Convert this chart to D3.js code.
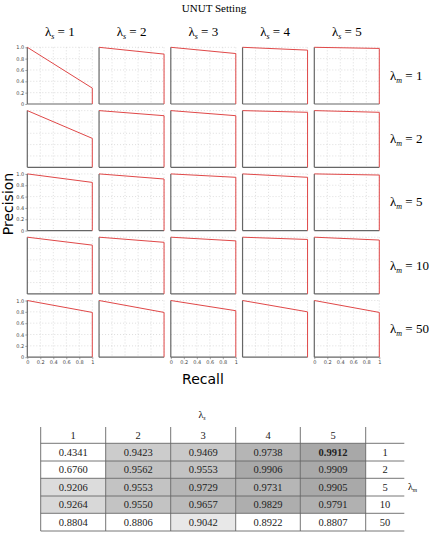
<!DOCTYPE html>
<html>
<head>
<meta charset="utf-8">
<script src="https://cdn.jsdelivr.net/npm/d3@7"></script>
<style>
  body { margin: 0; background: #fff; }
  svg { display: block; }
</style>
</head>
<body>
<svg id="chart" width="429" height="535"></svg>
<script>
// lambda_s columns and lambda_m rows
const lambdaS = [1, 2, 3, 4, 5];
const lambdaM = [1, 2, 5, 10, 50];

// precision at recall = 1 for each curve (rows = lambda_m, cols = lambda_s)
const precisionEnd = [
    [0.28, 0.88, 0.89, 0.95, 0.98],
    [0.51, 0.91, 0.91, 0.97, 0.97],
    [0.85, 0.91, 0.94, 0.94, 0.98],
    [0.86, 0.91, 0.935, 0.96, 0.95],
    [0.79, 0.79, 0.82, 0.80, 0.79]
];
const recallPts = [0, 1, 1];

// table values
const apValues = [
    [0.4341, 0.9423, 0.9469, 0.9738, 0.9912],
    [0.6760, 0.9562, 0.9553, 0.9906, 0.9909],
    [0.9206, 0.9553, 0.9729, 0.9731, 0.9905],
    [0.9264, 0.9550, 0.9657, 0.9829, 0.9791],
    [0.8804, 0.8806, 0.9042, 0.8922, 0.8807]
];

const tickVals = [0, 0.2, 0.4, 0.6, 0.8, 1];
const yTickLabels = ['0', '0.2', '0.4', '0.6', '0.8', '1.0'];
const xTickLabels = ['0', '0.2', '0.4', '0.6', '0.8', '1'];

const svg = d3.select('#chart');
const serif = '"Liberation Serif", "DejaVu Serif", serif';
const sans = '"DejaVu Sans", sans-serif';

// grid geometry
const colX0 = 27.3, colStep = 71.75, plotW = 65;
const rowY0 = 47.3, rowStep = 63.3, plotH = 56.7;

const x = d3.scaleLinear().domain([0, 1]).range([0, plotW]);
const y = d3.scaleLinear().domain([0, 1]).range([plotH, 0]);

// title
svg.append('text')
    .attr('x', 214).attr('y', 12)
    .attr('text-anchor', 'middle')
    .style('font-family', serif).style('font-size', '11px')
    .text('UNUT Setting');

// column titles
lambdaS.forEach((s, j) => {
    const t = svg.append('text')
        .attr('x', colX0 + j * colStep + plotW / 2).attr('y', 36)
        .attr('text-anchor', 'middle')
        .style('font-family', serif).style('font-size', '13px');
    t.append('tspan').text('λ');
    t.append('tspan').attr('dy', 3).style('font-size', '8px').style('font-style', 'italic').text('s');
    t.append('tspan').attr('dy', -3).text(' = ' + s);
});

// row labels
lambdaM.forEach((m, i) => {
    const t = svg.append('text')
        .attr('x', 390).attr('y', rowY0 + i * rowStep + plotH / 2 + 4)
        .style('font-family', serif).style('font-size', '13px');
    t.append('tspan').text('λ');
    t.append('tspan').attr('dy', 3).style('font-size', '8px').style('font-style', 'italic').text('m');
    t.append('tspan').attr('dy', -3).text(' = ' + m);
});

const line = d3.line().x(d => x(d[0])).y(d => y(d[1]));

lambdaM.forEach((m, i) => {
    lambdaS.forEach((s, j) => {
        const g = svg.append('g')
            .attr('transform', `translate(${colX0 + j * colStep},${rowY0 + i * rowStep})`);

        // dotted grid
        tickVals.slice(1).forEach(v => {
            g.append('line')
                .attr('x1', 0).attr('x2', plotW).attr('y1', y(v)).attr('y2', y(v))
                .attr('stroke', '#c8c8c8').attr('stroke-width', 0.6)
                .attr('stroke-dasharray', '1,2');
            g.append('line')
                .attr('x1', x(v)).attr('x2', x(v)).attr('y1', 0).attr('y2', plotH)
                .attr('stroke', '#c8c8c8').attr('stroke-width', 0.6)
                .attr('stroke-dasharray', '1,2');
        });

        // spines
        g.append('line').attr('x1', 0).attr('x2', 0).attr('y1', 0).attr('y2', plotH)
            .attr('stroke', '#666').attr('stroke-width', 1.2);
        g.append('line').attr('x1', 0).attr('x2', plotW).attr('y1', plotH).attr('y2', plotH)
            .attr('stroke', '#666').attr('stroke-width', 1.2);

        // PR curve
        const prec = [1, precisionEnd[i][j], 0];
        const pts = recallPts.map((r, k) => [r, prec[k]]);
        g.append('path')
            .attr('d', line(pts))
            .attr('fill', 'none')
            .attr('stroke', '#e04848')
            .attr('stroke-width', 1);

        // y tick labels on first column, rows 1, 3, 5
        if (j === 0 && i % 2 === 0) {
            const yAxis = d3.axisLeft(y).tickValues(tickVals)
                .tickFormat((d, k) => yTickLabels[k]).tickSize(2).tickPadding(1);
            const ga = g.append('g').call(yAxis);
            ga.select('.domain').remove();
            ga.selectAll('line').attr('stroke', '#666').attr('stroke-width', 0.6);
            ga.selectAll('text').style('font-family', sans).style('font-size', '5px').attr('fill', '#444');
        }
        // x tick labels on last row, columns 1, 3, 5
        if (i === lambdaM.length - 1 && j % 2 === 0) {
            const xAxis = d3.axisBottom(x).tickValues(tickVals)
                .tickFormat((d, k) => xTickLabels[k]).tickSize(2).tickPadding(1);
            const ga = g.append('g').attr('transform', `translate(0,${plotH})`).call(xAxis);
            ga.select('.domain').remove();
            ga.selectAll('line').attr('stroke', '#666').attr('stroke-width', 0.6);
            ga.selectAll('text').style('font-family', sans).style('font-size', '5px').attr('fill', '#444');
        }
    });
});

// axis titles
svg.append('text')
    .attr('transform', 'translate(13,204) rotate(-90)')
    .attr('text-anchor', 'middle')
    .style('font-family', sans).style('font-size', '14px')
    .text('Precision');
svg.append('text')
    .attr('x', 203).attr('y', 384)
    .attr('text-anchor', 'middle')
    .style('font-family', sans).style('font-size', '14px')
    .text('Recall');

// ---- table ----
const colEdges = [40.7, 105.7, 170.7, 235.7, 300.3, 365.7, 404.3];
const rowEdges = [427, 443.3, 461, 478.3, 496, 513.3, 531];
const shade = d3.scaleLinear().domain([0.9, 1.0]).range([235, 162]).clamp(true);
const cellFill = v => {
    if (v < 0.9) return '#fff';
    const c = Math.round(shade(v));
    return d3.rgb(c, c, c).toString();
};
const bestVal = d3.max(apValues.flat());

const tbl = svg.append('g');

apValues.forEach((row, i) => {
    row.forEach((v, j) => {
        tbl.append('rect')
            .attr('x', colEdges[j]).attr('y', rowEdges[i + 1])
            .attr('width', colEdges[j + 1] - colEdges[j])
            .attr('height', rowEdges[i + 2] - rowEdges[i + 1])
            .attr('fill', cellFill(v));
        tbl.append('text')
            .attr('x', (colEdges[j] + colEdges[j + 1]) / 2)
            .attr('y', (rowEdges[i + 1] + rowEdges[i + 2]) / 2 + 3.6)
            .attr('text-anchor', 'middle')
            .style('font-family', serif).style('font-size', '10.5px')
            .style('font-weight', v === bestVal ? 'bold' : 'normal')
            .attr('fill', '#222')
            .text(v.toFixed(4));
    });
    tbl.append('text')
        .attr('x', (colEdges[5] + colEdges[6]) / 2)
        .attr('y', (rowEdges[i + 1] + rowEdges[i + 2]) / 2 + 3.6)
        .attr('text-anchor', 'middle')
        .style('font-family', serif).style('font-size', '10.5px')
        .attr('fill', '#222')
        .text(lambdaM[i]);
});

// header numbers
lambdaS.forEach((s, j) => {
    tbl.append('text')
        .attr('x', (colEdges[j] + colEdges[j + 1]) / 2)
        .attr('y', (rowEdges[0] + rowEdges[1]) / 2 + 3.6)
        .attr('text-anchor', 'middle')
        .style('font-family', serif).style('font-size', '10.5px')
        .attr('fill', '#222')
        .text(s);
});

// table lines
rowEdges.slice(1).forEach(yy => {
    tbl.append('line')
        .attr('x1', colEdges[0]).attr('x2', colEdges[6]).attr('y1', yy).attr('y2', yy)
        .attr('stroke', '#666').attr('stroke-width', 0.9);
});
colEdges.slice(0, 6).forEach(xx => {
    tbl.append('line')
        .attr('x1', xx).attr('x2', xx).attr('y1', rowEdges[0]).attr('y2', rowEdges[6])
        .attr('stroke', '#666').attr('stroke-width', 0.9);
});

// lambda_s header, lambda_m side label
const ls = svg.append('text').attr('x', 202).attr('y', 418)
    .attr('text-anchor', 'middle')
    .style('font-family', serif).style('font-size', '10px');
ls.append('tspan').text('λ');
ls.append('tspan').attr('dy', 2).style('font-size', '6px').style('font-style', 'italic').text('s');

const lm = svg.append('text').attr('x', 408).attr('y', 490)
    .style('font-family', serif).style('font-size', '10px');
lm.append('tspan').text('λ');
lm.append('tspan').attr('dy', 2).style('font-size', '6px').style('font-style', 'italic').text('m');
</script>
</body>
</html>
